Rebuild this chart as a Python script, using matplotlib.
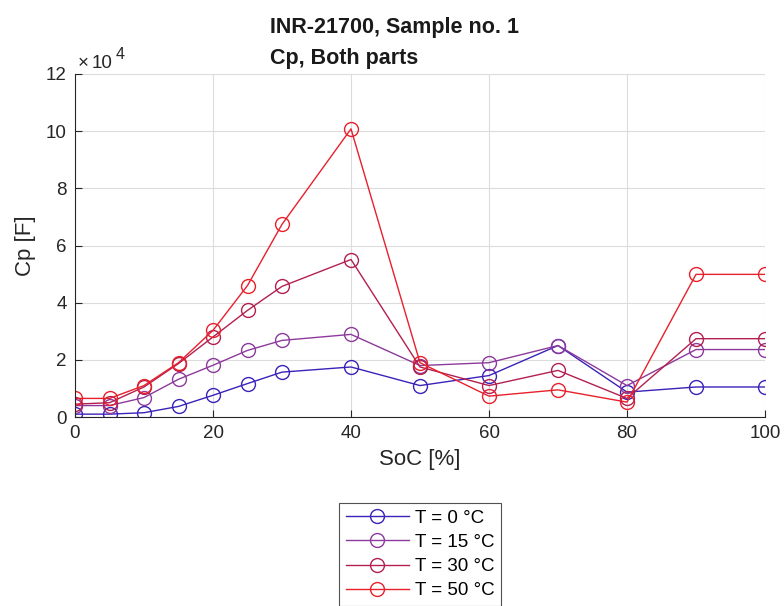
import matplotlib
matplotlib.use("Agg")
import matplotlib.pyplot as plt
from matplotlib.ticker import FuncFormatter, MultipleLocator

plt.rcParams['font.family'] = ['Liberation Sans', 'DejaVu Sans']

soc = [0, 5, 10, 15, 20, 25, 30, 40, 50, 60, 70, 80, 90, 100]

cp_0c = [1000, 1000, 1500, 3700, 7600, 11700, 15700, 17500, 11000, 14500, 25000, 8700, 10500, 10500]
cp_15c = [4000, 4000, 6800, 13200, 18100, 23300, 26800, 28900, 18000, 19000, 25000, 11000, 23600, 23600]
cp_30c = [4500, 5000, 10500, 18700, 28000, 37300, 45700, 55100, 17500, 11000, 16300, 6500, 27400, 27400]
cp_50c = [6500, 6500, 11000, 19000, 30300, 46000, 67400, 100800, 19000, 7300, 9500, 5200, 49900, 49900]

series = [cp_0c, cp_15c, cp_30c, cp_50c]
labels = ['T = 0 °C', 'T = 15 °C', 'T = 30 °C', 'T = 50 °C']
colors = ['#3b22b8', '#8c3a9c', '#b3204f', '#e8202c']

W, H = 784, 606
fig = plt.figure(figsize=(W / 100, H / 100), dpi=100)
ax = fig.add_axes([75 / W, 1 - 417 / H, 690 / W, 343 / H])

for y, lab, c in zip(series, labels, colors):
    ax.plot(soc, y, '-o', color=c, lw=1.0, ms=10, mfc='none', mew=1.0, label=lab)

ax.set_xlim(0, 100)
ax.set_ylim(0, 120000)
ax.xaxis.set_major_locator(MultipleLocator(20))
ax.yaxis.set_major_locator(MultipleLocator(20000))
ax.yaxis.set_major_formatter(FuncFormatter(lambda v, p: f"{v / 1e4:g}"))

ax.grid(True, color='#dcdcdc', lw=0.8)
ax.set_axisbelow(True)
for s in ['top', 'right']:
    ax.spines[s].set_visible(False)
for s in ['left', 'bottom']:
    ax.spines[s].set_color('#262626')
    ax.spines[s].set_linewidth(0.8)
ax.tick_params(direction='in', length=5, width=0.8, color='#262626',
               labelsize=13.5, labelcolor='#262626', pad=6)

ax.set_xlabel('SoC [%]', fontsize=16, color='#262626', labelpad=5)
ax.set_ylabel('Cp [F]', fontsize=16, color='#262626', labelpad=7)

# exponent label for the y axis (x10^4)
fig.text(78 / W, 1 - 68 / H, '×', fontsize=13.5, color='#262626', ha='left', va='baseline')
fig.text(92 / W, 1 - 68 / H, '10', fontsize=13.5, color='#262626', ha='left', va='baseline')
fig.text(116 / W, 1 - 59 / H, '4', fontsize=11.5, color='#262626', ha='left', va='baseline')

fig.text(270 / W, 1 - 33 / H, 'INR-21700, Sample no. 1', ha='left', va='baseline',
         fontsize=15.5, fontweight='bold', color='#1a1a1a')
fig.text(270 / W, 1 - 64 / H, 'Cp, Both parts', ha='left', va='baseline',
         fontsize=15.5, fontweight='bold', color='#1a1a1a')

leg = fig.legend(loc='upper left', bbox_to_anchor=(339 / W, 1 - 503 / H),
                 borderaxespad=0, fontsize=13.5, frameon=True, fancybox=False,
                 edgecolor='#262626', borderpad=0.35, labelspacing=0.38,
                 handlelength=3.4, handletextpad=0.3)
leg.get_frame().set_linewidth(0.8)

fig.savefig('out.png', dpi=100)
